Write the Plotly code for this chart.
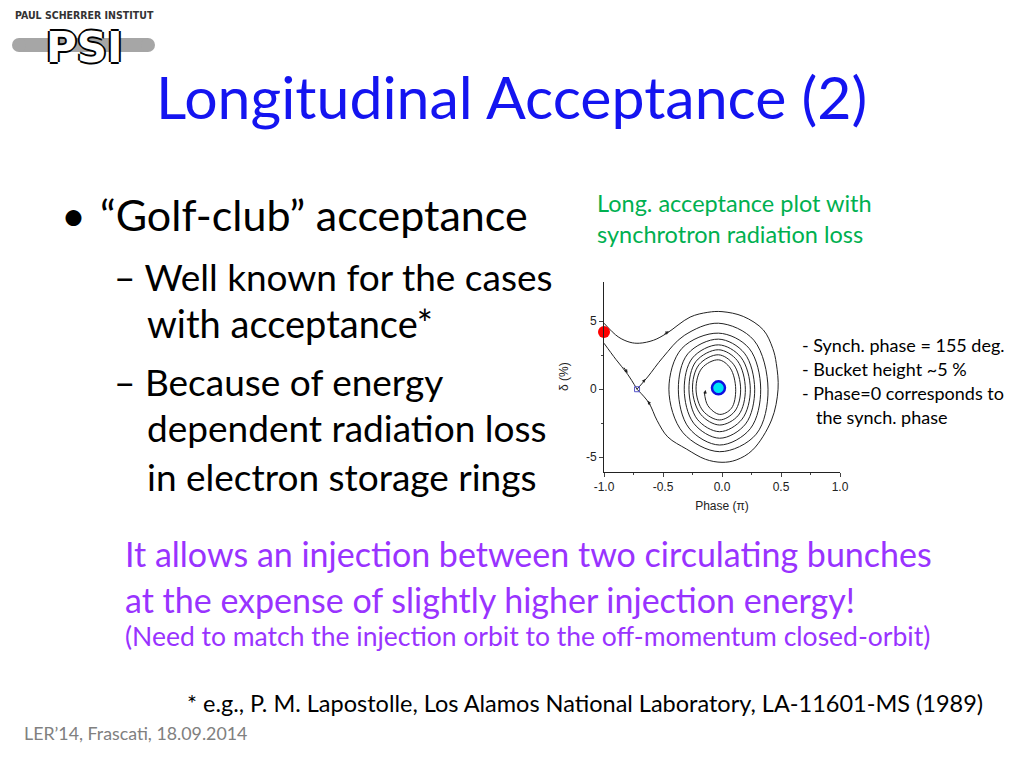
import plotly.graph_objects as go

# --- data (phase in units of pi, delta in %) ---
# outer trajectory, starts at the left edge and ends in the unstable fixed point
outer_phase = [-1.0, -0.88, -0.78, -0.70, -0.58, -0.47, -0.27, -0.12, 0.0, 0.18, 0.35,
               0.43, 0.46, 0.475, 0.42, 0.26, 0.12, 0.0, -0.14, -0.30, -0.46, -0.55,
               -0.62, -0.72]
outer_delta = [4.85, 3.85, 3.45, 3.38, 3.6, 4.1, 5.3, 5.65, 5.7, 5.35, 4.36,
               3.0, 1.9, 0.0, -2.26, -4.46, -5.2, -5.37, -5.15, -4.4, -3.5, -2.3,
               -1.0, 0.0]

# separatrix branch from the left edge down into the fixed point
branch_phase = [-1.0, -0.90, -0.80, -0.72]
branch_delta = [3.38, 2.2, 1.1, 0.0]

# damped spiral leaving the fixed point, turning clockwise into the centre
spiral_phase = [-0.72, -0.63, -0.50, -0.32,
                -0.03, 0.27, 0.39, 0.29, -0.02, -0.33, -0.45, -0.34,
                -0.03, 0.23, 0.328, 0.24, -0.02, -0.28, -0.37, -0.29,
                -0.03, 0.19, 0.277, 0.20, -0.02, -0.24, -0.32, -0.25,
                -0.03, 0.16, 0.24, 0.17, -0.02, -0.21, -0.28, -0.22,
                -0.03, 0.13, 0.198, 0.14, -0.02, -0.18, -0.25, -0.195,
                -0.03, 0.10, 0.158, 0.11, -0.02, -0.16, -0.22, -0.17,
                -0.03, 0.07, 0.116, 0.08, -0.02, -0.12, -0.15]
spiral_delta = [0.0, 0.9, 2.35, 3.95,
                4.85, 3.6, 0.0, -3.3, -4.59, -3.2, 0.0, 3.0,
                4.12, 3.0, 0.0, -2.9, -4.1, -2.85, 0.0, 2.6,
                3.68, 2.65, 0.0, -2.55, -3.6, -2.5, 0.0, 2.3,
                3.26, 2.35, 0.0, -2.2, -3.12, -2.2, 0.0, 2.05,
                2.9, 2.1, 0.0, -1.9, -2.63, -1.85, 0.0, 1.8,
                2.53, 1.8, 0.0, -1.6, -2.26, -1.6, 0.0, 1.55,
                2.16, 1.55, 0.0, -1.4, -1.85, -1.2, -0.2]

# marked points
inject_phase, inject_delta = [-1.0], [4.2]
sync_phase, sync_delta = [-0.03], [0.1]
ufp_phase, ufp_delta = [-0.72], [0.0]

# direction arrows: head position and tail position
arrow_x = [-0.45, -0.80, -0.65, -0.63, -0.14]
arrow_y = [4.25, 1.2, 0.75, -0.85, -0.05]
arrow_tx = [-0.50, -0.84, -0.68, -0.60, -0.145]
arrow_ty = [4.0, 1.7, 0.4, -1.25, -0.45]

x_ticks = [-1.0, -0.5, 0.0, 0.5, 1.0]
x_labels = ["-1.0", "-0.5", "0.0", "0.5", "1.0"]
y_ticks = [-5, 0, 5]
y_labels = ["-5", "0", "5"]

fig = go.Figure()

line_style = dict(color="#222222", width=1, shape="spline", smoothing=1.0)
fig.add_trace(go.Scatter(x=outer_phase, y=outer_delta, mode="lines", line=line_style))
fig.add_trace(go.Scatter(x=branch_phase, y=branch_delta, mode="lines", line=line_style))
fig.add_trace(go.Scatter(x=spiral_phase, y=spiral_delta, mode="lines", line=line_style))

fig.add_trace(go.Scatter(x=ufp_phase, y=ufp_delta, mode="markers",
                         marker=dict(symbol="square-open", size=5, color="#5555cc", line=dict(width=1))))
fig.add_trace(go.Scatter(x=inject_phase, y=inject_delta, mode="markers",
                         marker=dict(size=12, color="#ff0000"), cliponaxis=False))
fig.add_trace(go.Scatter(x=sync_phase, y=sync_delta, mode="markers",
                         marker=dict(size=13, color="#00e5f5", line=dict(color="#1010e0", width=2.5))))

for hx, hy, tx, ty in zip(arrow_x, arrow_y, arrow_tx, arrow_ty):
    fig.add_annotation(x=hx, y=hy, ax=tx, ay=ty, xref="x", yref="y", axref="x", ayref="y",
                       text="", showarrow=True, arrowhead=2, arrowsize=0.7, arrowwidth=1,
                       arrowcolor="#222222")

# figure sits inside the page's 8px body margin, so work in page pixels minus 8
OFF = 8
W, H = 1024 - 2 * OFF, 768 - 2 * OFF


def px(x):
    return (x - OFF) / W


def py(y):
    return 1 - (y - OFF) / H


def note(txt, x, y, size, color="#000000", font="Lato", anchor="left"):
    fig.add_annotation(text=txt, x=px(x), y=py(y), xref="paper", yref="paper",
                       xanchor=anchor, yanchor="middle", align="left", showarrow=False,
                       font=dict(family=font, size=size, color=color))


# slide texts
note("Longitudinal Acceptance (2)", 511, 97, 59, "#1414f0", anchor="center")
note("•", 59, 215, 43)
note("“Golf-club” acceptance", 98, 215, 43)
note("– Well known for the cases", 112, 276, 37)
note("with acceptance*", 145, 323, 38)
note("– Because of energy", 112, 381, 37)
note("dependent radiation loss", 145, 428, 37)
note("in electron storage rings", 145, 476, 37)
note("Long. acceptance plot with", 595, 203, 23.5, "#00b050")
note("synchrotron radiation loss", 595, 234, 23.5, "#00b050")
note("- Synch. phase = 155 deg.", 800, 345, 18)
note("- Bucket height ~5 %", 800, 369, 18)
note("- Phase=0 corresponds to", 800, 393, 18)
note("the synch. phase", 814, 417, 18)
note("It allows an injection between two circulating bunches", 123, 553, 34, "#9933ff")
note("at the expense of slightly higher injection energy!", 123, 599, 34, "#9933ff")
note("(Need to match the injection orbit to the off-momentum closed-orbit)", 123, 636, 26.5, "#9933ff")
note("* e.g., P. M. Lapostolle, Los Alamos National Laboratory, LA-11601-MS (1989)", 185, 703, 23.5)
note("LER’14, Frascati, 18.09.2014", 22, 733, 17.8, "#808080")

# PSI logo
note("<b>PAUL SCHERRER INSTITUT</b>", 84, 15, 10.5, "#333333", font="DejaVu Sans Condensed", anchor="center")
fig.add_shape(type="rect", x0=px(19), x1=px(148), y0=py(38), y1=py(52),
              xref="paper", yref="paper", fillcolor="#a6a6a6", line_width=0)
fig.add_shape(type="circle", x0=px(12), x1=px(26), y0=py(38), y1=py(52),
              xref="paper", yref="paper", fillcolor="#a6a6a6", line_width=0)
fig.add_shape(type="circle", x0=px(141), x1=px(155), y0=py(38), y1=py(52),
              xref="paper", yref="paper", fillcolor="#a6a6a6", line_width=0)
fig.add_annotation(text="<b>PSI</b>", x=px(84), y=py(47), xref="paper", yref="paper",
                   xanchor="center", yanchor="middle", showarrow=False,
                   font=dict(family="DejaVu Sans", size=42, color="#ffffff",
                             shadow="-2px 0 #000, 2px 0 #000, 0 -2px #000, 0 2px #000"))

axis_font = dict(family="Liberation Sans", size=12, color="#222222")
fig.update_layout(
    width=W, height=H,
    margin=dict(l=0, r=0, t=0, b=0, pad=0, autoexpand=False),
    paper_bgcolor="white", plot_bgcolor="white",
    showlegend=False,
    xaxis=dict(domain=[px(604), px(840)], range=[-1.0, 1.0], automargin=False,
               tickvals=x_ticks, ticktext=x_labels, ticks="outside", ticklen=4,
               showline=True, linecolor="#222222", linewidth=1, showgrid=False, zeroline=False,
               tickfont=axis_font,
               minor=dict(tickvals=[-0.75, -0.25, 0.25, 0.75], ticks="outside", ticklen=2),
               title=dict(text="Phase (π)", standoff=8, font=axis_font)),
    yaxis=dict(domain=[py(471.7), py(281.7)], range=[-6.06, 7.9], automargin=False,
               tickvals=y_ticks, ticktext=y_labels, ticks="outside", ticklen=4,
               showline=True, linecolor="#222222", linewidth=1, showgrid=False, zeroline=False,
               tickfont=axis_font,
               minor=dict(tickvals=[-2.5, 2.5], ticks="outside", ticklen=2),
               title=dict(text="δ (%)", standoff=14, font=axis_font)),
)

fig.write_html("out.html")
